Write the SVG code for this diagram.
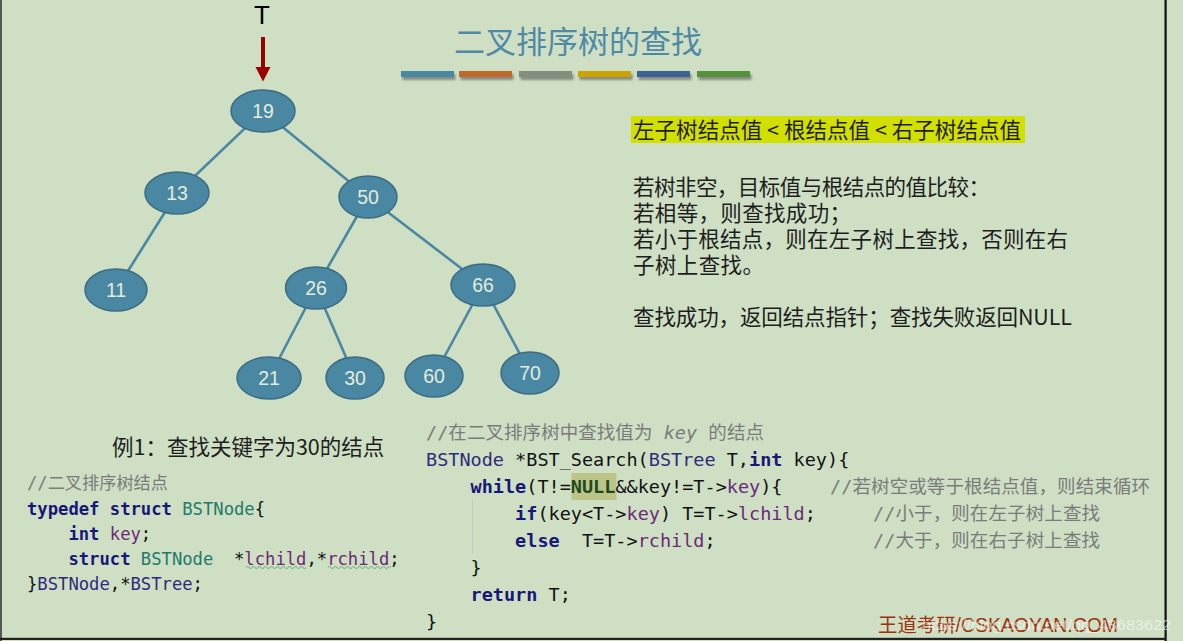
<svg xmlns="http://www.w3.org/2000/svg" width="1183" height="641" viewBox="0 0 1183 641">
<defs>
<style>
.node ellipse{fill:#4a87a3;stroke:#3b6c83;stroke-width:1.5}
.node text{font-family:"Liberation Sans","Noto Sans",sans-serif;font-size:19.5px;fill:#e2eddb;text-anchor:middle}
.edge{stroke:#4a87a3;stroke-width:2.6;fill:none}
.cn{font-family:"Noto Sans CJK SC","Noto Sans",sans-serif;font-size:21.5px;fill:#1e1e1e}
.code{font-family:"DejaVu Sans Mono","Noto Sans CJK SC",monospace;fill:#111}
.kw{font-weight:bold;fill:#17177a}
.ty{fill:#1f7a6c}
.tn{fill:#2e2b7c}
.fd{fill:#6b2a77}
.cm{fill:#7b7b7b}
.bar{filter:url(#sh)}
</style>
<filter id="sh" x="-10%" y="-50%" width="130%" height="250%">
<feDropShadow dx="1.5" dy="3" stdDeviation="1.3" flood-color="#555" flood-opacity="0.6"/>
</filter>
</defs>
<rect x="0" y="0" width="1183" height="641" fill="#cedfc4"/>
<rect x="0" y="0" width="2" height="641" fill="#555"/>
<rect x="1164.5" y="0" width="2.2" height="641" fill="#111"/>
<rect x="0" y="637.8" width="1166" height="2.2" fill="#222"/>

<!-- title -->
<text x="578" y="53" font-family="Noto Sans CJK SC,sans-serif" font-size="31" fill="#4e8aa6" text-anchor="middle">二叉排序树的查找</text>
<g id="bars">
<rect class="bar" x="401" y="71" width="53" height="6" fill="#4a87a3"/>
<rect class="bar" x="459" y="71" width="53" height="6" fill="#c0682a"/>
<rect class="bar" x="519" y="71" width="53" height="6" fill="#858d7b"/>
<rect class="bar" x="578" y="71" width="53" height="6" fill="#cda300"/>
<rect class="bar" x="637" y="71" width="53" height="6" fill="#3b6395"/>
<rect class="bar" x="697" y="71" width="53" height="6" fill="#55913a"/>
</g>

<!-- T pointer -->
<g id="pointer">
<text x="262" y="24" font-family="Liberation Sans,sans-serif" font-size="26" fill="#000" text-anchor="middle">T</text>
<rect x="261" y="37" width="4" height="31" fill="#9b0000"/>
<polygon points="255.5,67 270.5,67 263,81.5" fill="#9b0000"/>
</g>

<!-- connectors -->
<g id="connectors">
<line class="edge" x1="263" y1="111" x2="177" y2="193"/>
<line class="edge" x1="263" y1="111" x2="368" y2="197"/>
<line class="edge" x1="177" y1="193" x2="116" y2="290"/>
<line class="edge" x1="368" y1="197" x2="316" y2="288"/>
<line class="edge" x1="368" y1="197" x2="483" y2="285"/>
<line class="edge" x1="316" y1="288" x2="269" y2="378"/>
<line class="edge" x1="316" y1="288" x2="355" y2="378"/>
<line class="edge" x1="483" y1="285" x2="434" y2="376"/>
<line class="edge" x1="483" y1="285" x2="530" y2="373"/>
</g>

<g id="n19" class="node"><ellipse cx="263" cy="111" rx="32" ry="21"/><text x="263" y="118">19</text></g>
<g id="n13" class="node"><ellipse cx="177" cy="193" rx="32" ry="21"/><text x="177" y="200">13</text></g>
<g id="n50" class="node"><ellipse cx="368" cy="197" rx="29" ry="21"/><text x="368" y="204">50</text></g>
<g id="n11" class="node"><ellipse cx="116" cy="290" rx="31" ry="21"/><text x="116" y="297">11</text></g>
<g id="n26" class="node"><ellipse cx="316" cy="288" rx="30.5" ry="21"/><text x="316" y="295">26</text></g>
<g id="n66" class="node"><ellipse cx="483" cy="285" rx="32" ry="21"/><text x="483" y="292">66</text></g>
<g id="n21" class="node"><ellipse cx="269" cy="378" rx="32" ry="21"/><text x="269" y="385">21</text></g>
<g id="n30" class="node"><ellipse cx="355" cy="378" rx="29" ry="21"/><text x="355" y="385">30</text></g>
<g id="n60" class="node"><ellipse cx="434" cy="376" rx="29" ry="21"/><text x="434" y="383">60</text></g>
<g id="n70" class="node"><ellipse cx="530" cy="373" rx="29" ry="21"/><text x="530" y="380">70</text></g>

<!-- right description -->
<g id="desc">
<rect x="631" y="116" width="394" height="27" fill="#d2e000"/>
<text class="cn" x="633" y="138" textLength="388" lengthAdjust="spacing">左子树结点值 &lt; 根结点值 &lt; 右子树结点值</text>
<text class="cn" x="633" y="195" textLength="357" lengthAdjust="spacing">若树非空，目标值与根结点的值比较：</text>
<text class="cn" x="633" y="221" textLength="218" lengthAdjust="spacing">若相等，则查找成功；</text>
<text class="cn" x="633" y="247" textLength="435" lengthAdjust="spacing">若小于根结点，则在左子树上查找，否则在右</text>
<text class="cn" x="633" y="273" textLength="131" lengthAdjust="spacing">子树上查找。</text>
<text class="cn" x="633" y="325" textLength="439" lengthAdjust="spacing">查找成功，返回结点指针；查找失败返回NULL</text>
</g>

<text class="cn" x="112" y="455" font-size="21.5">例1：查找关键字为30的结点</text>

<!-- left code -->
<g id="code-left" class="code" font-size="17.2">
<text x="27" y="489" xml:space="preserve" class="code cm" textLength="141">//二叉排序树结点</text>
<text x="27" y="515" xml:space="preserve"><tspan class="kw">typedef</tspan> <tspan class="kw">struct</tspan> <tspan class="ty">BSTNode</tspan>{</text>
<text x="27" y="540" xml:space="preserve">    <tspan class="kw">int</tspan> <tspan class="fd">key</tspan>;</text>
<text x="27" y="565" xml:space="preserve">    <tspan class="kw">struct</tspan> <tspan class="ty">BSTNode</tspan>  *<tspan class="fd">lchild</tspan>,*<tspan class="fd">rchild</tspan>;</text>
<text x="27" y="590" xml:space="preserve">}<tspan class="tn">BSTNode</tspan>,*<tspan class="tn">BSTree</tspan>;</text>
<path d="M246,567.5 q1.5,-2 3,0 t3,0 t3,0 t3,0 t3,0 t3,0 t3,0 t3,0 t3,0 t3,0 t3,0 t3,0 t3,0 t3,0 t3,0 t3,0 t3,0 t3,0 t3,0 t3,0" fill="none" stroke="#7dbb82" stroke-width="1.1"/>
<path d="M328,567.5 q1.5,-2 3,0 t3,0 t3,0 t3,0 t3,0 t3,0 t3,0 t3,0 t3,0 t3,0 t3,0 t3,0 t3,0 t3,0 t3,0 t3,0 t3,0 t3,0 t3,0 t3,0 t3,0" fill="none" stroke="#7dbb82" stroke-width="1.1"/>
</g>

<!-- right code -->
<g id="code-right" class="code" font-size="18.5">
<rect x="571.5" y="473" width="45" height="27" fill="#bcc488"/>
<line x1="472.5" y1="500" x2="472.5" y2="553" stroke="#c2c9b8" stroke-width="1"/>
<text x="426" y="439" xml:space="preserve" class="code cm" textLength="338">//在二叉排序树中查找值为 <tspan font-style="italic">key</tspan> 的结点</text>
<text x="426" y="466" xml:space="preserve"><tspan class="tn">BSTNode</tspan> *BST_Search(<tspan class="tn">BSTree</tspan> T,<tspan class="kw">int</tspan> key){</text>
<text x="426" y="493" xml:space="preserve">    <tspan class="kw">while</tspan>(T!=<tspan font-weight="bold" fill="#1d4a1d">NULL</tspan>&amp;&amp;key!=T-&gt;<tspan class="fd">key</tspan>){</text>
<text x="830" y="493" class="code cm" textLength="320">//若树空或等于根结点值，则结束循环</text>
<text x="426" y="520" xml:space="preserve">        <tspan class="kw">if</tspan>(key&lt;T-&gt;<tspan class="fd">key</tspan>) T=T-&gt;<tspan class="fd">lchild</tspan>;</text>
<text x="873" y="520" class="code cm" textLength="227">//小于，则在左子树上查找</text>
<text x="426" y="547" xml:space="preserve">        <tspan class="kw">else</tspan>  T=T-&gt;<tspan class="fd">rchild</tspan>;</text>
<text x="873" y="547" class="code cm" textLength="227">//大于，则在右子树上查找</text>
<text x="426" y="574" xml:space="preserve">    }</text>
<text x="426" y="601" xml:space="preserve">    <tspan class="kw">return</tspan> T;</text>
<text x="426" y="628" xml:space="preserve">}</text>
</g>

<!-- watermark -->
<text x="878" y="632" font-family="Liberation Sans,Noto Sans CJK SC,sans-serif" font-size="19.5" fill="#9e300c" textLength="240" lengthAdjust="spacingAndGlyphs">王道考研/CSKAOYAN.COM</text>
<text x="922" y="630" font-family="Liberation Sans,sans-serif" font-size="15" fill="#ffffff" fill-opacity="0.55" textLength="249" lengthAdjust="spacingAndGlyphs">https://blog.csdn.net/qq_43683622</text>
</svg>
